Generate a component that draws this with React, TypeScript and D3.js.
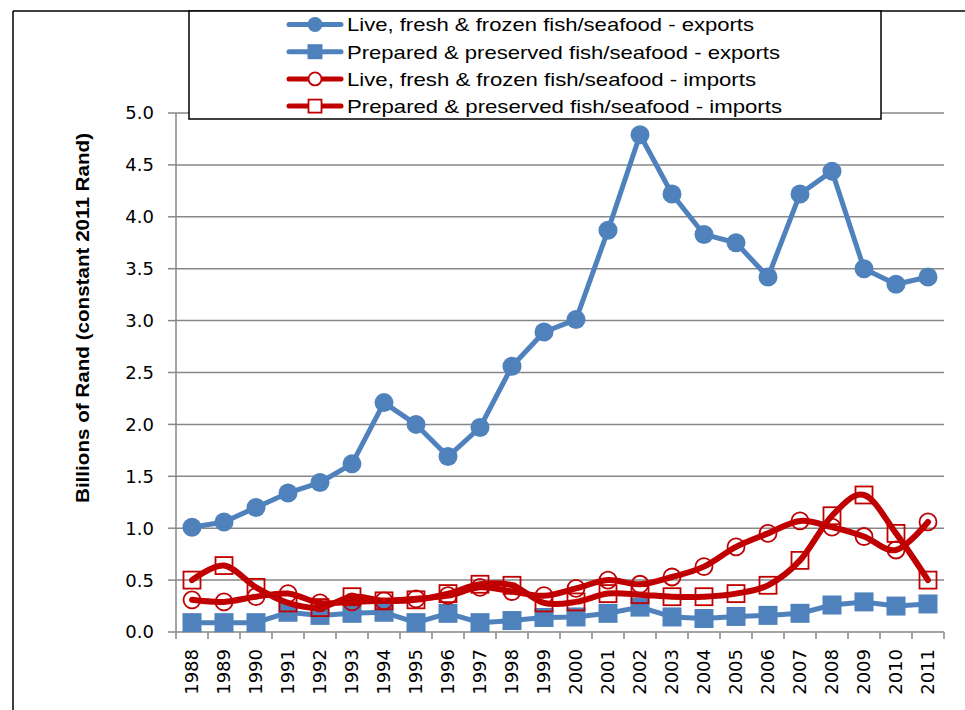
import React from "react";
import * as d3 from "d3";

const years = ["1988","1989","1990","1991","1992","1993","1994","1995","1996","1997","1998","1999","2000","2001","2002","2003","2004","2005","2006","2007","2008","2009","2010","2011"];
const liveExports = [1.01,1.06,1.20,1.34,1.44,1.62,2.21,2.00,1.69,1.97,2.56,2.89,3.01,3.87,4.79,4.22,3.83,3.75,3.42,4.22,4.44,3.50,3.35,3.42];
const prepExports = [0.09,0.09,0.09,0.19,0.16,0.18,0.19,0.09,0.18,0.09,0.11,0.14,0.145,0.18,0.24,0.145,0.13,0.15,0.16,0.18,0.26,0.29,0.25,0.27];
const liveImports = [0.31,0.29,0.34,0.37,0.28,0.29,0.30,0.32,0.35,0.43,0.39,0.35,0.42,0.50,0.46,0.53,0.63,0.82,0.95,1.07,1.01,0.92,0.79,1.06];
const prepImports = [0.50,0.64,0.43,0.28,0.235,0.34,0.30,0.31,0.37,0.46,0.45,0.28,0.29,0.37,0.36,0.34,0.34,0.37,0.45,0.69,1.12,1.32,0.95,0.50];
const yTicks = [0,0.5,1,1.5,2,2.5,3,3.5,4,4.5,5];
const seriesNames = [
  "Live, fresh & frozen fish/seafood - exports",
  "Prepared & preserved fish/seafood - exports",
  "Live, fresh & frozen fish/seafood - imports",
  "Prepared & preserved fish/seafood - imports",
];
const legendWidths = [407, 433, 409, 435];
const yTitle = "Billions of Rand (constant 2011 Rand)";

const BLUE = "#4F81BD";
const RED = "#C00000";
const GRID = "#878787";

export default function App() {
  const left = 176, right = 944, top = 113, bottom = 632;
  const x = d3.scaleBand<string>().domain(years).range([left, right]).padding(0);
  const cx = (i: number) => (x(years[i]) as number) + x.bandwidth() / 2;
  const y = d3.scaleLinear().domain([0, 5]).range([bottom, top]);

  const straight = d3.line<number>().x((_, i) => cx(i)).y((d) => y(d));
  const smooth = d3.line<number>().x((_, i) => cx(i)).y((d) => y(d)).curve(d3.curveCatmullRom.alpha(0));

  const series = [
    { data: liveExports, color: BLUE, shape: "circle", filled: true, gen: straight, w: 5 },
    { data: prepExports, color: BLUE, shape: "square", filled: true, gen: straight, w: 5 },
    { data: liveImports, color: RED, shape: "circle", filled: false, gen: smooth, w: 6 },
    { data: prepImports, color: RED, shape: "square", filled: false, gen: smooth, w: 6 },
  ];

  const marker = (shape: string, filled: boolean, color: string, px: number, py: number, size: number, key: any, legend = false) => {
    const fill = filled ? color : legend ? "#fff" : "none";
    const sw = filled ? 0 : 1.8;
    if (shape === "circle") {
      return <circle key={key} cx={px} cy={py} r={filled ? size / 2 : size / 2 - 1} fill={fill} stroke={color} strokeWidth={sw} />;
    }
    const s = filled ? size : size - 2;
    return <rect key={key} x={px - s / 2} y={py - s / 2} width={s} height={s} fill={fill} stroke={color} strokeWidth={sw} />;
  };

  return (
    <svg width={965} height={710} style={{ position: "absolute", left: 0, top: 0, background: "#fff" }}>
      <rect x={0} y={0} width={965} height={710} fill="#fff" />
      {/* outer frame */}
      <line x1={13} y1={11} x2={965} y2={11} stroke="#000" strokeWidth={1.5} />
      <line x1={13} y1={11} x2={13} y2={710} stroke="#000" strokeWidth={1.5} />

      {/* gridlines */}
      {yTicks.filter((t) => t > 0).map((t) => (
        <line key={"g" + t} x1={left} x2={right} y1={y(t)} y2={y(t)} stroke={GRID} strokeWidth={1.5} />
      ))}
      {/* y axis */}
      <line x1={left} x2={left} y1={top} y2={bottom} stroke={GRID} strokeWidth={1.5} />
      {yTicks.map((t) => (
        <g key={"yt" + t}>
          <line x1={left - 8} x2={left} y1={y(t)} y2={y(t)} stroke={GRID} strokeWidth={1.5} />
          <text x={154} y={y(t)} dy="0.36em" textAnchor="end" fontFamily="DejaVu Sans" fontSize={18} fill="#000">
            {d3.format(".1f")(t)}
          </text>
        </g>
      ))}
      {/* x axis */}
      <line x1={left} x2={right} y1={bottom} y2={bottom} stroke={GRID} strokeWidth={1.5} />
      {d3.range(years.length + 1).map((i) => {
        const xx = left + i * x.bandwidth();
        return <line key={"xt" + i} x1={xx} x2={xx} y1={bottom} y2={bottom + 7} stroke={GRID} strokeWidth={1.5} />;
      })}
      {years.map((yr, i) => (
        <text key={"xl" + yr} transform={`translate(${cx(i)},649) rotate(-90)`} dy="0.36em" textAnchor="end" fontFamily="DejaVu Sans" fontSize={18} fill="#000">
          {yr}
        </text>
      ))}
      {/* y title */}
      <text transform={`translate(83,318) rotate(-90)`} dy="0.36em" textAnchor="middle" fontFamily="Liberation Sans, Arial, sans-serif" fontWeight="bold" fontSize={18} textLength={370} lengthAdjust="spacingAndGlyphs" fill="#000">
        {yTitle}
      </text>

      {/* series */}
      {series.map((s, si) => (
        <g key={"s" + si}>
          <path d={s.gen(s.data) as string} fill="none" stroke={s.color} strokeWidth={s.w} strokeLinejoin="round" strokeLinecap="round" />
          {s.data.map((v, i) => marker(s.shape, s.filled, s.color, cx(i), y(v), 19, "m" + si + "-" + i))}
        </g>
      ))}

      {/* legend */}
      <rect x={189} y={11} width={692} height={108} fill="#fff" stroke="#000" strokeWidth={1.5} />
      {series.map((s, si) => {
        const ly = 24.5 + si * 27.2;
        return (
          <g key={"l" + si}>
            <line x1={289} x2={341} y1={ly} y2={ly} stroke={s.color} strokeWidth={5} strokeLinecap="round" />
            {marker(s.shape, s.filled, s.color, 315, ly, 15, "lm" + si, true)}
            <text x={347} y={ly} dy="0.36em" fontFamily="Liberation Sans, Arial, sans-serif" fontSize={19} textLength={legendWidths[si]} lengthAdjust="spacingAndGlyphs" fill="#000">
              {seriesNames[si]}
            </text>
          </g>
        );
      })}
    </svg>
  );
}
